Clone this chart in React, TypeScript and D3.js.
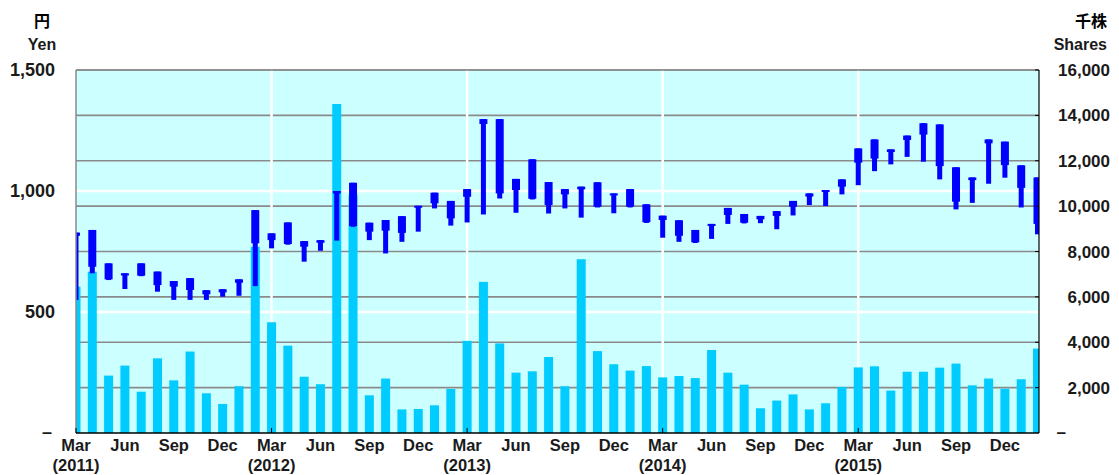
import React from 'react';
import * as d3 from 'd3';

// monthly, Mar 2011 .. Feb 2016
const months = d3.range(60).map(i => {
  const d = new Date(2011, 2 + i, 1);
  return d3.timeFormat('%Y-%m')(d);
});

// price (yen): high, body top (open), body bottom (close), low
const high = [828, 839, 701, 660, 701, 667, 628, 640, 590, 594, 635, 921,
  825, 870, 793, 797, 1000, 1034, 869, 880, 896, 939, 993, 959,
  1008, 1297, 1297, 1050, 1131, 1037, 1008, 1018, 1036, 990, 1008, 945,
  898, 879, 839, 864, 930, 905, 897, 917, 959, 990, 1004, 1048,
  1176, 1213, 1172, 1229, 1280, 1275, 1098, 1056, 1213, 1204, 1106, 1056];
const open = [828, 839, 701, 660, 701, 667, 628, 640, 590, 594, 635, 921,
  825, 870, 793, 797, 1000, 1034, 869, 880, 896, 939, 993, 959,
  1008, 1297, 1297, 1050, 1131, 1037, 1008, 1018, 1036, 990, 1008, 945,
  898, 879, 839, 864, 930, 905, 897, 917, 959, 990, 1004, 1048,
  1176, 1213, 1172, 1229, 1280, 1275, 1098, 1056, 1213, 1204, 1106, 1056];
const close = [815, 687, 635, 651, 650, 611, 605, 591, 573, 581, 621, 784,
  797, 781, 770, 786, 990, 855, 832, 836, 827, 933, 949, 887,
  976, 1277, 990, 1004, 968, 942, 986, 1007, 935, 982, 935, 871,
  880, 815, 788, 858, 901, 869, 883, 897, 935, 977, 999, 1018,
  1117, 1134, 1161, 1211, 1233, 1103, 956, 1045, 1197, 1107, 1013, 864];
const low = [550, 660, 632, 595, 648, 584, 550, 550, 550, 563, 567, 607,
  763, 778, 708, 753, 795, 852, 797, 742, 790, 832, 928, 857,
  870, 903, 969, 910, 965, 907, 928, 890, 932, 908, 932, 868,
  807, 790, 785, 802, 864, 866, 867, 842, 899, 942, 938, 986,
  1024, 1082, 1110, 1141, 1121, 1048, 924, 951, 1030, 1055, 932, 821];

// volume (thousand shares)
const volume = [6450, 7110, 2530, 2970, 1820, 3290, 2320, 3590, 1750, 1280, 2060, 8210,
  4880, 3850, 2480, 2150, 14500, 10480, 1660, 2400, 1040, 1060, 1220, 1940,
  4060, 6660, 3950, 2660, 2720, 3350, 2060, 7660, 3610, 3030, 2750, 2950,
  2450, 2510, 2420, 3660, 2660, 2130, 1090, 1430, 1700, 1040, 1310, 2030,
  2890, 2940, 1870, 2700, 2700, 2880, 3060, 2100, 2400, 1950, 2370, 3720];

const priceTicks = [500, 1000, 1500];
const priceTickLabels = ['500', '1,000', '1,500'];
const volTicks = [2000, 4000, 6000, 8000, 10000, 12000, 14000, 16000];
const monthLabels = ['Mar', 'Jun', 'Sep', 'Dec'];
const yearLabels = ['(2011)', '(2012)', '(2013)', '(2014)', '(2015)'];

const W = 1119, H = 475;
const L = 76, R = 1039, T = 70, B = 433;
const font = '"Liberation Sans", Arial, sans-serif';
const cjk = '"Noto Sans CJK JP", sans-serif';

export default function App() {
  const x = d3.scalePoint<string>().domain(months).range([L, 1037.5]);
  const yP = d3.scaleLinear().domain([0, 1500]).range([B, T]);
  const yV = d3.scaleLinear().domain([0, 16000]).range([B, T]);

  const fmt = d3.format(',');
  const quarterIdx = months.map((m, i) => i).filter(i => i % 3 === 0);
  const marchIdx = months.map((m, i) => i).filter(i => i % 12 === 0);

  return (
    <div style={{ position: 'absolute', left: 0, top: 0 }}>
      <svg width={W} height={H} style={{ display: 'block', fontFamily: font }}>
        <defs>
          <clipPath id="plot">
            <rect x={L} y={T} width={R - L} height={B - T} />
          </clipPath>
        </defs>
        <rect x={L} y={T} width={R - L} height={B - T} fill="#ccffff" />

        {/* gray grid on volume ticks */}
        {volTicks.map(v => (
          <line key={'g' + v} x1={L} x2={R} y1={yV(v)} y2={yV(v)} stroke="#8a8a8a" strokeWidth={1.6} />
        ))}
        {/* white grid on price ticks */}
        {priceTicks.filter(p => p < 1500).map(p => (
          <line key={'w' + p} x1={L} x2={R} y1={yP(p)} y2={yP(p)} stroke="#ffffff" strokeWidth={2.5} />
        ))}
        {marchIdx.filter(i => i > 0).map(i => (
          <line key={'v' + i} x1={x(months[i])} x2={x(months[i])} y1={T} y2={B} stroke="#ffffff" strokeWidth={2.5} />
        ))}

        <g clipPath="url(#plot)">
          {volume.map((v, i) => (
            <rect key={'b' + i} x={x(months[i])! - 4.5} width={9} y={yV(v)} height={B - yV(v)} fill="#00ccff" />
          ))}
          {months.map((m, i) => (
            <g key={'c' + i} fill="#0000ff">
              <rect x={x(m)! - 2.5} width={5} y={yP(high[i])} height={yP(low[i]) - yP(high[i])} />
              <rect x={x(m)! - 4} width={8}
                y={yP(Math.max(open[i], close[i]))}
                height={Math.max(2, Math.abs(yP(open[i]) - yP(close[i])))} />
            </g>
          ))}
        </g>

        {/* frame */}
        <line x1={L} x2={R} y1={T} y2={T} stroke="#8a8a8a" strokeWidth={1.5} />
        <line x1={L} x2={L} y1={T} y2={B} stroke="#8a8a8a" strokeWidth={1.5} />
        <line x1={R} x2={R} y1={T} y2={B} stroke="#000" strokeWidth={1.2} />
        <line x1={L} x2={R} y1={B} y2={B} stroke="#000" strokeWidth={1.5} />
        {volTicks.map(v => (
          <line key={'rt' + v} x1={R - 4} x2={R} y1={yV(v)} y2={yV(v)} stroke="#000" />
        ))}
        {marchIdx.map(i => (
          <line key={'xt' + i} x1={x(months[i])} x2={x(months[i])} y1={B - 5} y2={B} stroke="#000" />
        ))}

        {/* left axis labels */}
        <g fontSize={18} fontWeight="bold" fill="#1a1a1a" textAnchor="end">
          {priceTicks.map((p, k) => (
            <text key={'pl' + p} x={55} y={yP(p)} dy="0.36em">{priceTickLabels[k]}</text>
          ))}
          <text x={52} y={B} dy="0.3em">–</text>
        </g>
        <g fontSize={17} fontWeight="bold" fill="#1a1a1a" textAnchor="end">
          {volTicks.map(v => (
            <text key={'vl' + v} x={1110} y={yV(v)} dy="0.36em">{fmt(v)}</text>
          ))}
          <text x={1066} y={B} dy="0.3em">–</text>
        </g>

        {/* units */}
        <text x={42} y={27} fontSize={16} fontWeight="bold" fontFamily={cjk} textAnchor="middle">円</text>
        <text x={42} y={50} fontSize={16} fontWeight="bold" fill="#1a1a1a" textAnchor="middle">Yen</text>
        <text x={1107} y={27} fontSize={16} fontWeight="bold" fontFamily={cjk} textAnchor="end">千株</text>
        <text x={1107} y={50} fontSize={16} fontWeight="bold" fill="#1a1a1a" textAnchor="end">Shares</text>

        {/* x labels */}
        <g fontSize={16.5} fontWeight="bold" textAnchor="middle" fill="#1a1a1a">
          {quarterIdx.map((i, k) => (
            <text key={'m' + i} x={x(months[i])} y={451}>{monthLabels[k % 4]}</text>
          ))}
          {marchIdx.map((i, k) => (
            <text key={'y' + i} x={x(months[i])} y={471}>{yearLabels[k]}</text>
          ))}
        </g>
      </svg>
    </div>
  );
}
